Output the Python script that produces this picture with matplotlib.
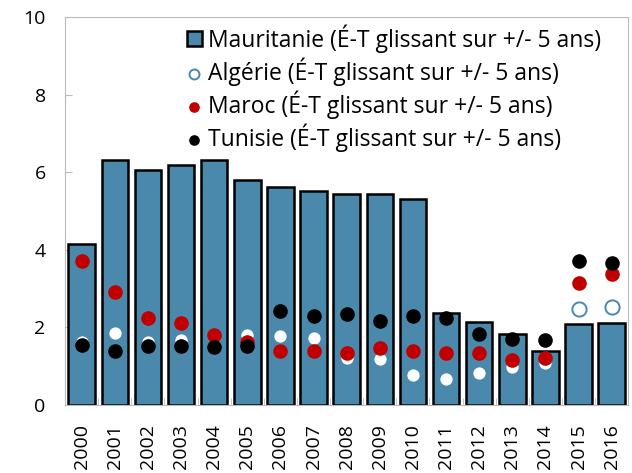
import numpy as np
import matplotlib
matplotlib.use("Agg")
import matplotlib.pyplot as plt

plt.rcParams['font.family'] = ['Open Sans', 'DejaVu Sans']

# Données
annees = [str(a) for a in range(2000, 2017)]
mauritanie = [4.15, 6.31, 6.06, 6.19, 6.31, 5.80, 5.62, 5.52, 5.44, 5.44, 5.31,
              2.37, 2.14, 1.83, 1.40, 2.08, 2.11]
algerie = [1.62, 1.85, 1.62, 1.67, 1.50, 1.80, 1.78, 1.73, 1.21, 1.19, 0.77,
           0.67, 0.82, 0.98, 1.08, 2.47, 2.53]
maroc = [3.72, 2.91, 2.24, 2.11, 1.80, 1.62, 1.39, 1.39, 1.34, 1.47, 1.39,
         1.34, 1.34, 1.16, 1.21, 3.14, 3.38]
tunisie = [1.55, 1.39, 1.52, 1.52, 1.49, 1.52, 2.42, 2.29, 2.35, 2.17, 2.29,
           2.24, 1.83, 1.70, 1.68, 3.71, 3.66]

lab = "(É-T glissant sur +/- 5 ans)"

fig = plt.figure(figsize=(6.32, 4.73), dpi=100)
ax = fig.add_axes([0.103, 0.144, 0.891, 0.820])

x = np.arange(len(annees))
b = ax.bar(x, mauritanie, width=0.8, color="#4A89AC", edgecolor="black", linewidth=1.8,
           label="Mauritanie " + lab, zorder=2)
s1 = ax.scatter(x, algerie, s=105, facecolor="white", edgecolor="#4A89AC", linewidth=1.4,
                label="Algérie " + lab, zorder=3)
s2 = ax.scatter(x, maroc, s=90, color="#C00000", label="Maroc " + lab, zorder=4)
s3 = ax.scatter(x, tunisie, s=90, color="black", label="Tunisie " + lab, zorder=5)

ax.set_xlim(-0.5, len(annees) - 0.5)
ax.set_ylim(0, 10)
ax.set_yticks([0, 2, 4, 6, 8, 10])
ax.set_xticks(x)
ax.set_xticklabels(annees, rotation=90, fontsize=14)
ax.set_xticks(np.arange(-0.5, len(annees), 1), minor=True)
ax.tick_params(axis="x", which="major", length=0, pad=14)
ax.tick_params(axis="x", which="minor", direction="in", length=5, color="#BBBBBB")
ax.tick_params(axis="y", direction="in", length=5, color="#BBBBBB", labelsize=14, pad=14)

for s in ax.spines.values():
    s.set_color("#BBBBBB")

ax.legend([b, s1, s2, s3],
          ["Mauritanie " + lab, "Algérie " + lab, "Maroc " + lab, "Tunisie " + lab],
          loc="upper left", frameon=False, fontsize=16.5, handletextpad=0.25,
          labelspacing=0.2, borderaxespad=0.0, handlelength=0.65, handleheight=0.65,
          markerscale=0.7, bbox_to_anchor=(0.2, 1.005))

fig.savefig("out.png", dpi=100)
